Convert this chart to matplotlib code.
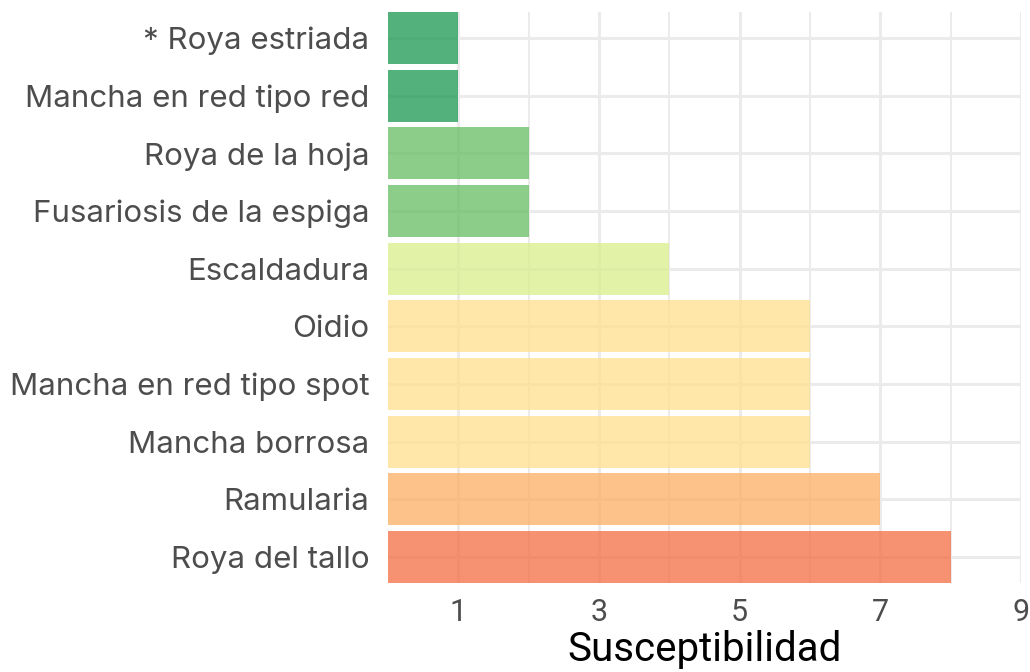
import matplotlib
matplotlib.use("Agg")
import matplotlib.pyplot as plt
from matplotlib.ticker import FixedLocator

categories = ["* Roya estriada", "Mancha en red tipo red", "Roya de la hoja",
              "Fusariosis de la espiga", "Escaldadura", "Oidio",
              "Mancha en red tipo spot", "Mancha borrosa", "Ramularia",
              "Roya del tallo"]
values = [1, 1, 2, 2, 4, 6, 6, 6, 7, 8]
colors = ["#1a9850", "#1a9850", "#66bd63", "#66bd63", "#d9ef8b", "#fee08b",
          "#fee08b", "#fee08b", "#fdae61", "#f46d43"]
x_ticks = [1, 3, 5, 7, 9]
x_title = "Susceptibilidad"

fig = plt.figure(figsize=(10.30, 6.72), dpi=100)
ax = fig.add_axes([388/1030, 1 - 583/672, (1021-388)/1030, (583-12)/672])

n = len(categories)
ypos = list(range(n))[::-1]
ax.barh(ypos, values, height=0.9, color=colors, alpha=0.75, zorder=3, linewidth=0)

ax.set_xlim(0, 9)
ax.set_ylim(-0.45, n - 0.55)
ax.xaxis.set_major_locator(FixedLocator(x_ticks))
ax.xaxis.set_minor_locator(FixedLocator([2, 4, 6, 8]))
ax.set_yticks(ypos)
ax.set_yticklabels(categories, fontsize=22.5, color="#4D4D4D", family=["Inter", "DejaVu Sans"])
ax.set_xticklabels([str(t) for t in x_ticks], fontsize=22, color="#4D4D4D",
                   family=["Roboto", "DejaVu Sans"])
ax.tick_params(axis="both", which="both", length=0)
ax.tick_params(axis="y", pad=13.5)
ax.tick_params(axis="x", pad=11)

ax.grid(True, which="major", axis="both", color="#EBEBEB", linewidth=2.2, zorder=0)
ax.grid(True, which="minor", axis="x", color="#EBEBEB", linewidth=1.4, zorder=0)
ax.set_axisbelow(True)
for s in ax.spines.values():
    s.set_visible(False)

ax.set_xlabel(x_title, fontsize=29, color="black",
              family=["Roboto", "DejaVu Sans"], labelpad=2)

fig.savefig("out.png", dpi=100)
